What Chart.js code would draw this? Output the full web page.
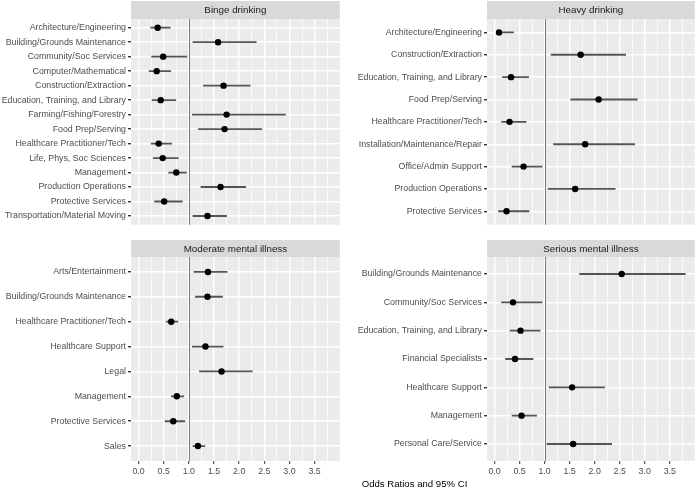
<!DOCTYPE html>
<html>
<head>
<meta charset="utf-8">
<script src="https://cdn.jsdelivr.net/npm/chart.js@4.4.1/dist/chart.umd.min.js"></script>
<style>
  body { margin: 0; background: #fff; width: 700px; height: 488px; position: relative; overflow: hidden;
         font-family: "Liberation Sans", Arial, sans-serif; }
  canvas { position: absolute; }
  #xtitle { position: absolute; left: 131px; width: 567px; top: 478px; line-height: 12px;
            text-align: center; font-size: 9.6px; color: #000; }
</style>
</head>
<body>
<canvas id="binge" width="343" height="232" style="left:0;top:0"></canvas>
<canvas id="heavy" width="348" height="232" style="left:350px;top:0"></canvas>
<canvas id="moderate" width="343" height="240" style="left:0;top:240px"></canvas>
<canvas id="serious" width="348" height="240" style="left:350px;top:240px"></canvas>
<div id="xtitle">Odds Ratios and 95% CI</div>
<script>
// x axis breaks (labels on every 0.5, minor grid on the 0.25s)
const xTicks = [0, 0.25, 0.5, 0.75, 1, 1.25, 1.5, 1.75, 2, 2.25, 2.5, 2.75, 3, 3.25, 3.5, 3.75]
const refValue = 1

const bingeCats = ['Architecture/Engineering', 'Building/Grounds Maintenance', 'Community/Soc Services',
    'Computer/Mathematical', 'Construction/Extraction', 'Education, Training, and Library',
    'Farming/Fishing/Forestry', 'Food Prep/Serving', 'Healthcare Practitioner/Tech',
    'Life, Phys, Soc Sciences', 'Management', 'Production Operations', 'Protective Services',
    'Transportation/Material Moving']
const bingeOR = [0.38, 1.58, 0.49, 0.36, 1.69, 0.44, 1.75, 1.71, 0.40, 0.48, 0.75, 1.63, 0.51, 1.37]
const bingeLow = [0.24, 1.08, 0.26, 0.21, 1.29, 0.27, 1.07, 1.19, 0.25, 0.29, 0.60, 1.24, 0.32, 1.08]
const bingeHigh = [0.63, 2.34, 0.96, 0.64, 2.22, 0.74, 2.92, 2.45, 0.66, 0.79, 0.95, 2.13, 0.87, 1.75]

const heavyCats = ['Architecture/Engineering', 'Construction/Extraction', 'Education, Training, and Library',
    'Food Prep/Serving', 'Healthcare Practitioner/Tech', 'Installation/Maintenance/Repair',
    'Office/Admin Support', 'Production Operations', 'Protective Services']
const heavyOR = [0.09, 1.72, 0.33, 2.08, 0.30, 1.81, 0.58, 1.61, 0.24]
const heavyLow = [0.04, 1.13, 0.16, 1.52, 0.14, 1.18, 0.35, 1.07, 0.08]
const heavyHigh = [0.38, 2.62, 0.68, 2.85, 0.63, 2.80, 0.95, 2.41, 0.69]

const moderateCats = ['Arts/Entertainment', 'Building/Grounds Maintenance', 'Healthcare Practitioner/Tech',
    'Healthcare Support', 'Legal', 'Management', 'Protective Services', 'Sales']
const moderateOR = [1.38, 1.37, 0.65, 1.33, 1.65, 0.76, 0.69, 1.18]
const moderateLow = [1.10, 1.13, 0.55, 1.07, 1.21, 0.65, 0.53, 1.08]
const moderateHigh = [1.76, 1.67, 0.78, 1.68, 2.26, 0.90, 0.92, 1.32]

const seriousCats = ['Building/Grounds Maintenance', 'Community/Soc Services', 'Education, Training, and Library',
    'Financial Specialists', 'Healthcare Support', 'Management', 'Personal Care/Service']
const seriousOR = [2.54, 0.37, 0.52, 0.41, 1.55, 0.54, 1.57]
const seriousLow = [1.70, 0.14, 0.31, 0.22, 1.09, 0.35, 1.05]
const seriousHigh = [3.81, 0.95, 0.91, 0.77, 2.20, 0.84, 2.34]

Chart.defaults.font.family = '"Liberation Sans", Arial, sans-serif'

const isMajor = v => v % 0.5 === 0

function facet(id, title, cats, or, low, high, axisWidth, bottomAxis) {
    const stripTop = bottomAxis ? 0 : 1
    const panelBits = {
        id: 'panelBits',
        beforeDraw(chart) {
            const {ctx, chartArea: a} = chart
            ctx.save()
            ctx.fillStyle = '#EBEBEB'
            ctx.fillRect(a.left, a.top, a.right - a.left, a.bottom - a.top)
            ctx.fillStyle = '#D9D9D9'
            ctx.fillRect(a.left, stripTop, a.right - a.left, a.top - stripTop)
            ctx.fillStyle = '#1A1A1A'
            ctx.font = '9.8px "Liberation Sans", Arial, sans-serif'
            ctx.textAlign = 'center'
            ctx.textBaseline = 'middle'
            ctx.fillText(title, (a.left + a.right) / 2, (stripTop + a.top) / 2 + 0.5)
            ctx.restore()
        },
        beforeDatasetsDraw(chart) {
            // reference line at OR = 1
            const {ctx, chartArea: a, scales} = chart
            const px = Math.round(scales.x.getPixelForValue(refValue)) + 0.5
            ctx.save()
            ctx.strokeStyle = '#7A7A7A'
            ctx.lineWidth = 1
            ctx.beginPath()
            ctx.moveTo(px, a.top)
            ctx.lineTo(px, a.bottom)
            ctx.stroke()
            ctx.restore()
        }
    }

    return new Chart(document.getElementById(id), {
        type: 'bar',
        data: {
            datasets: [
                {
                    type: 'line',
                    data: cats.map((c, i) => ({x: or[i], y: i})),
                    showLine: false,
                    pointRadius: 3.2,
                    pointHoverRadius: 3.2,
                    pointBackgroundColor: '#000000',
                    pointBorderColor: '#000000',
                    pointBorderWidth: 0,
                    order: 0
                },
                {
                    type: 'bar',
                    data: cats.map((c, i) => ({x: [low[i], high[i]], y: i})),
                    backgroundColor: '#555555',
                    borderWidth: 0,
                    barThickness: 1.2,
                    order: 1
                }
            ]
        },
        options: {
            indexAxis: 'y',
            responsive: false,
            animation: false,
            events: [],
            layout: {padding: {top: bottomAxis ? 17 : 19, bottom: bottomAxis ? 0 : 6}},
            plugins: {legend: {display: false}, tooltip: {enabled: false}},
            scales: {
                x: {
                    type: 'linear',
                    min: -0.15,
                    max: 4.0,
                    afterBuildTicks: s => { s.ticks = xTicks.map(v => ({value: v})) },
                    afterFit: s => { s.height = bottomAxis ? 19 : 0 },
                    border: {display: false},
                    grid: {
                        color: '#FFFFFF',
                        lineWidth: c => (c.tick && isMajor(c.tick.value)) ? 1.4 : 0.7,
                        drawTicks: bottomAxis,
                        tickLength: 3,
                        tickWidth: 1,
                        tickColor: c => (c.tick && isMajor(c.tick.value)) ? '#333333' : 'rgba(0,0,0,0)'
                    },
                    ticks: {
                        display: bottomAxis,
                        autoSkip: false,
                        maxRotation: 0,
                        padding: 2,
                        color: '#4D4D4D',
                        font: {size: 8.8},
                        callback: v => isMajor(v) ? v.toFixed(1) : ''
                    }
                },
                y: {
                    type: 'linear',
                    reverse: true,
                    offset: false,
                    min: -0.6,
                    max: cats.length - 0.4,
                    afterBuildTicks: s => { s.ticks = cats.map((c, i) => ({value: i})) },
                    afterFit: s => { s.width = axisWidth },
                    border: {display: false},
                    grid: {offset: false, color: '#FFFFFF', lineWidth: 1.4, tickLength: 3, tickColor: '#333333'},
                    ticks: {
                        autoSkip: false,
                        padding: 2,
                        color: '#4D4D4D',
                        font: {size: 8.8},
                        callback: v => cats[v]
                    }
                }
            }
        },
        plugins: [panelBits]
    })
}

facet('binge', 'Binge drinking', bingeCats, bingeOR, bingeLow, bingeHigh, 131, false)
facet('heavy', 'Heavy drinking', heavyCats, heavyOR, heavyLow, heavyHigh, 137, false)
facet('moderate', 'Moderate mental illness', moderateCats, moderateOR, moderateLow, moderateHigh, 131, true)
facet('serious', 'Serious mental illness', seriousCats, seriousOR, seriousLow, seriousHigh, 137, true)
</script>
</body>
</html>
